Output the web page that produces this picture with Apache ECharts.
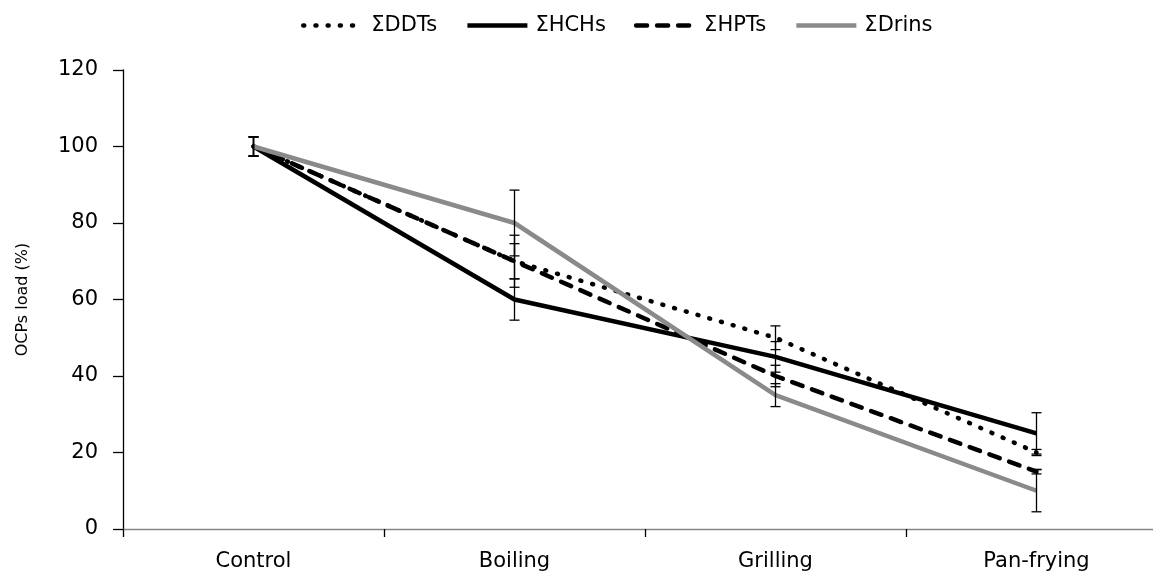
<!DOCTYPE html>
<html>
<head>
<meta charset="utf-8">
<script src="https://cdn.jsdelivr.net/npm/echarts@6/dist/echarts.min.js"></script>
<style>
html,body{margin:0;padding:0;background:#fff;}
#chart{width:1153px;height:573px;}
</style>
</head>
<body>
<div id="chart"></div>
<script>
// ---- data ----
var categories = ['Control', 'Boiling', 'Grilling', 'Pan-frying'];
var seriesNames = ['\u03A3DDTs', '\u03A3HCHs', '\u03A3HPTs', '\u03A3Drins'];
var ddts  = [100, 70, 50, 20];
var hchs  = [100, 60, 45, 25];
var hpts  = [100, 70, 40, 15];
var drins = [100, 80, 35, 10];
var ddtsErr  = [2.5, 6.8, 3.1, 0.8];
var hchsErr  = [2.5, 5.4, 4.0, 5.4];
var hptsErr  = [2.5, 4.6, 2.8, 0.6];
var drinsErr = [2.5, 8.6, 3.0, 5.5];
var yTicks = [0, 20, 40, 60, 80, 100, 120];

var values = [ddts, hchs, hpts, drins];
var errors = [ddtsErr, hchsErr, hptsErr, drinsErr];
var styles = [
  {color: '#000000', width: 4.5, type: [1, 11.2], cap: 'round'},
  {color: '#000000', width: 4.5, type: 'solid', cap: 'butt'},
  {color: '#000000', width: 4.5, type: [11, 10], cap: 'round'},
  {color: '#8a8a8a', width: 4.5, type: 'solid', cap: 'butt'}
];
var FONT = 'DejaVu Sans';

var errData = [];
for (var s = 0; s < values.length; s++) {
  for (var i = 0; i < categories.length; i++) {
    errData.push([i, values[s][i] - errors[s][i], values[s][i] + errors[s][i]]);
  }
}

var series = [];
for (var k = 0; k < values.length; k++) {
  series.push({
    name: seriesNames[k],
    type: 'line',
    data: values[k],
    symbol: 'none',
    lineStyle: {color: styles[k].color, width: styles[k].width, type: styles[k].type, cap: styles[k].cap, join: 'round'},
    itemStyle: {color: styles[k].color},
    z: 2 + k,
    animation: false
  });
}
series.push({
  type: 'custom',
  name: 'err',
  data: errData,
  encode: {x: 0, y: [1, 2]},
  z: 10,
  animation: false,
  clip: false,
  renderItem: function (params, api) {
    var x = api.value(0);
    var lo = api.coord([x, api.value(1)]);
    var hi = api.coord([x, api.value(2)]);
    var hw = 5;
    var st = {stroke: '#000', lineWidth: 1.3, fill: null};
    return {
      type: 'group',
      children: [
        {type: 'line', shape: {x1: lo[0], y1: lo[1], x2: hi[0], y2: hi[1]}, style: st},
        {type: 'line', shape: {x1: lo[0] - hw, y1: lo[1], x2: lo[0] + hw, y2: lo[1]}, style: st},
        {type: 'line', shape: {x1: hi[0] - hw, y1: hi[1], x2: hi[0] + hw, y2: hi[1]}, style: st}
      ]
    };
  }
});

var chart = echarts.init(document.getElementById('chart'), null, {renderer: 'canvas'});
chart.setOption({
  animation: false,
  backgroundColor: '#ffffff',
  textStyle: {fontFamily: FONT},
  legend: {
    data: seriesNames,
    left: 301,
    top: 15,
    itemWidth: 60,
    itemHeight: 14,
    itemGap: 28,
    padding: 0,
    itemStyle: {opacity: 0},
    lineStyle: {width: 'inherit'},
    textStyle: {fontFamily: FONT, fontSize: 21, color: '#000', padding: [0, 0, 0, 3]}
  },
  grid: {left: 123, right: -14, top: 70, bottom: 44, containLabel: false, outerBoundsMode: 'none'},
  xAxis: {
    type: 'category',
    data: categories,
    boundaryGap: true,
    axisLine: {lineStyle: {color: '#868686', width: 1.3}},
    axisTick: {show: true, length: 8, inside: false, lineStyle: {color: '#000', width: 1.3}},
    axisLabel: {fontFamily: FONT, fontSize: 21, color: '#000', margin: 22}
  },
  yAxis: {
    type: 'value',
    min: yTicks[0],
    max: yTicks[yTicks.length - 1],
    interval: 20,
    name: 'OCPs load (%)',
    nameLocation: 'middle',
    nameGap: 92,
    nameTextStyle: {fontFamily: FONT, fontSize: 16, color: '#000'},
    axisLine: {show: true, lineStyle: {color: '#000', width: 1.3}},
    axisTick: {show: true, length: 10, lineStyle: {color: '#000', width: 1.3}},
    axisLabel: {fontFamily: FONT, fontSize: 21, color: '#000', margin: 25},
    splitLine: {show: false}
  },
  series: series
});
</script>
</body>
</html>
